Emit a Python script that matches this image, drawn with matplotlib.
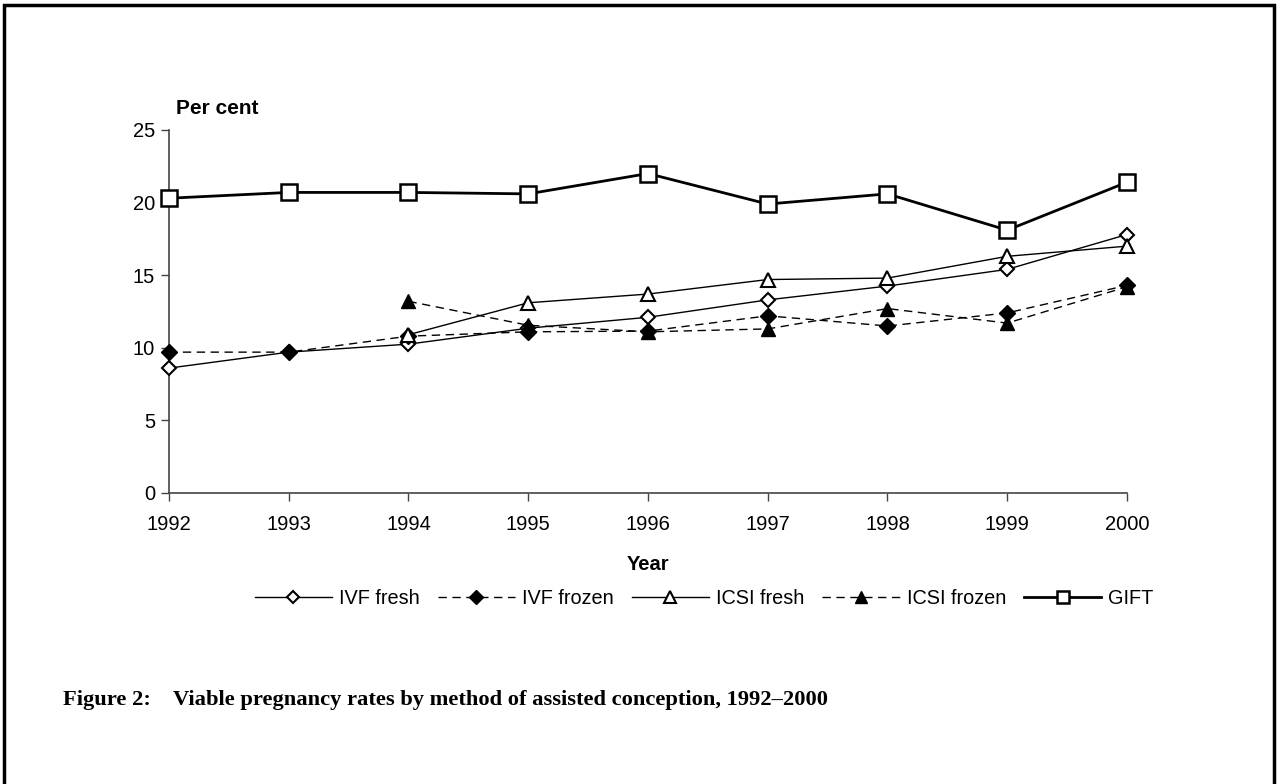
import numpy as np
import matplotlib
matplotlib.use("Agg")
import matplotlib.pyplot as plt
from matplotlib.patches import Rectangle

years = [1992, 1993, 1994, 1995, 1996, 1997, 1998, 1999, 2000]

ivf_fresh = [8.6, 9.7, 10.25, 11.35, 12.1, 13.3, 14.25, 15.4, 17.8]
ivf_frozen = [9.7, 9.7, 10.8, 11.1, 11.15, 12.2, 11.5, 12.4, 14.3]
icsi_years = [1994, 1995, 1996, 1997, 1998, 1999, 2000]
icsi_fresh = [10.9, 13.1, 13.7, 14.7, 14.8, 16.3, 17.0]
icsi_frozen = [13.2, 11.55, 11.1, 11.3, 12.7, 11.7, 14.2]
gift = [20.3, 20.7, 20.7, 20.6, 22.0, 19.9, 20.6, 18.1, 21.4]

plt.rcParams['font.family'] = ['Liberation Sans', 'DejaVu Sans']

fig = plt.figure(figsize=(12.78, 7.84), dpi=100)
ax = fig.add_axes([0.1322, 0.3712, 0.7496, 0.463])

ax.plot(years, ivf_fresh, '-', color='black', lw=1.0, marker='D', ms=7,
        mfc='white', mec='black', mew=1.5, label='IVF fresh', clip_on=False, zorder=3)
ax.plot(years, ivf_frozen, '--', color='black', lw=1.0, dashes=(6, 4), marker='D', ms=8,
        mfc='black', mec='black', label='IVF frozen', clip_on=False, zorder=3)
ax.plot(icsi_years, icsi_fresh, '-', color='black', lw=1.0, marker='^', ms=10,
        mfc='white', mec='black', mew=1.5, label='ICSI fresh', clip_on=False, zorder=3)
ax.plot(icsi_years, icsi_frozen, '--', color='black', lw=1.0, dashes=(6, 4), marker='^', ms=10,
        mfc='black', mec='black', label='ICSI frozen', clip_on=False, zorder=3)
ax.plot(years, gift, '-', color='black', lw=2.0, marker='s', ms=11,
        mfc='white', mec='black', mew=1.8, label='GIFT', clip_on=False, zorder=4)

ax.set_xlim(1992, 2000)
ax.set_ylim(0, 25)
ax.set_xticks(years)
ax.set_yticks([0, 5, 10, 15, 20, 25])
ax.tick_params(axis='both', labelsize=14.5, direction='out', length=6, width=1, color='#444444')
ax.tick_params(axis='x', pad=10)
ax.tick_params(axis='y', pad=4)
ax.spines['top'].set_visible(False)
ax.spines['right'].set_visible(False)
for s in ('left', 'bottom'):
    ax.spines[s].set_color('#444444')
    ax.spines[s].set_linewidth(1.2)

ax.set_xlabel('Year', fontsize=14.5, fontweight='bold', labelpad=15)
fig.text(0.1377, 0.861, 'Per cent', fontsize=15, fontweight='bold', ha='left', va='center')

fig.legend(loc='center', bbox_to_anchor=(0.551, 0.237), ncol=5, frameon=False,
           fontsize=14.3, handlelength=3.9, columnspacing=0.9, handletextpad=0.35,
           markerscale=0.85)

fig.text(0.049, 0.107, 'Figure 2:    Viable pregnancy rates by method of assisted conception, 1992\u20132000',
         family=['Liberation Serif', 'DejaVu Serif'], fontsize=16.2, fontweight='bold',
         ha='left', va='center')

fig.patches.append(Rectangle((0.003, -0.05), 0.994, 1.043, transform=fig.transFigure,
                             fill=False, edgecolor='black', lw=2.5))

fig.savefig('out.png', dpi=100)
